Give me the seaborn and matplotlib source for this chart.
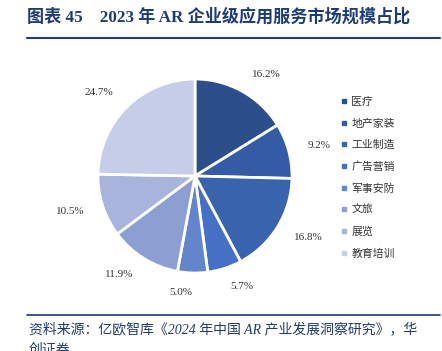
import matplotlib
matplotlib.use("Agg")
import matplotlib.pyplot as plt
from matplotlib.lines import Line2D
import seaborn as sns

# Data
categories = ["医疗", "地产家装", "工业制造", "广告营销", "军事安防", "文旅", "展览", "教育培训"]
shares = [16.2, 9.2, 16.8, 5.7, 5.0, 11.9, 10.5, 24.7]
colors = ["#2C4F8C", "#345BA3", "#3A63AD", "#4570C4", "#6385CB", "#8D9FD2", "#A9B4DC", "#C6CDE8"]
title = "图表 45    2023 年 AR 企业级应用服务市场规模占比"
source = "资料来源：亿欧智库《2024 年中国 AR 产业发展洞察研究》，华"
source2 = "创证券"

sns.set_theme(style="white")
plt.rcParams['font.family'] = ['Liberation Serif', 'Noto Sans CJK SC', 'DejaVu Sans']

W, H = 442, 351
fig = plt.figure(figsize=(W / 100, H / 100), dpi=100)
fig.patch.set_facecolor("white")

# pie axes: center (195,176) px, radius 97 px, limits +-1.5
cx, cy, r = 195, 176, 97
half = 1.5 * r
ax = fig.add_axes([(cx - half) / W, (H - cy - half) / H, 2 * half / W, 2 * half / H])
palette = sns.color_palette(colors)
wedges, texts = ax.pie(shares, colors=palette, startangle=90, counterclock=False,
                       labels=[f"{v:.1f}%" for v in shares], labeldistance=1.2,
                       wedgeprops=dict(edgecolor="white", linewidth=2),
                       textprops=dict(fontsize=8, color="#333333", family="Liberation Serif"))
ax.set_xlim(-1.5, 1.5)
ax.set_ylim(-1.5, 1.5)
ax.axis("off")

# legend
handles = [Line2D([], [], marker="s", ls="", color=c, markersize=2.2) for c in palette]
fig.legend(handles, categories, loc="upper left", bbox_to_anchor=(332 / W, 1 - 87 / H),
           frameon=False, handlelength=0.5, handletextpad=0.4, labelspacing=1.05,
           prop=dict(family="Noto Sans CJK SC", size=7.8), labelcolor="#333333")

# title and rules
navy = "#1F3B73"
fig.text(27 / W, 1 - 17 / H, title, fontsize=12.3, fontweight="bold", color=navy,
         va="center", ha="left", family=["Liberation Serif", "Noto Sans CJK SC"])
fig.add_artist(Line2D([27 / W, 440 / W], [1 - 38 / H, 1 - 38 / H], color=navy, lw=1.5))
fig.add_artist(Line2D([27 / W, 440 / W], [1 - 315 / H, 1 - 315 / H], color=navy, lw=1.2))
fig.text(29 / W, 1 - 329 / H, source, fontsize=10, style="italic", color=navy,
         va="center", ha="left", family=["Liberation Serif", "Noto Sans CJK SC"])
fig.text(29 / W, 1 - 350 / H, source2, fontsize=10, style="italic", color=navy,
         va="center", ha="left", family=["Liberation Serif", "Noto Sans CJK SC"])

fig.savefig("out.png", dpi=100)
